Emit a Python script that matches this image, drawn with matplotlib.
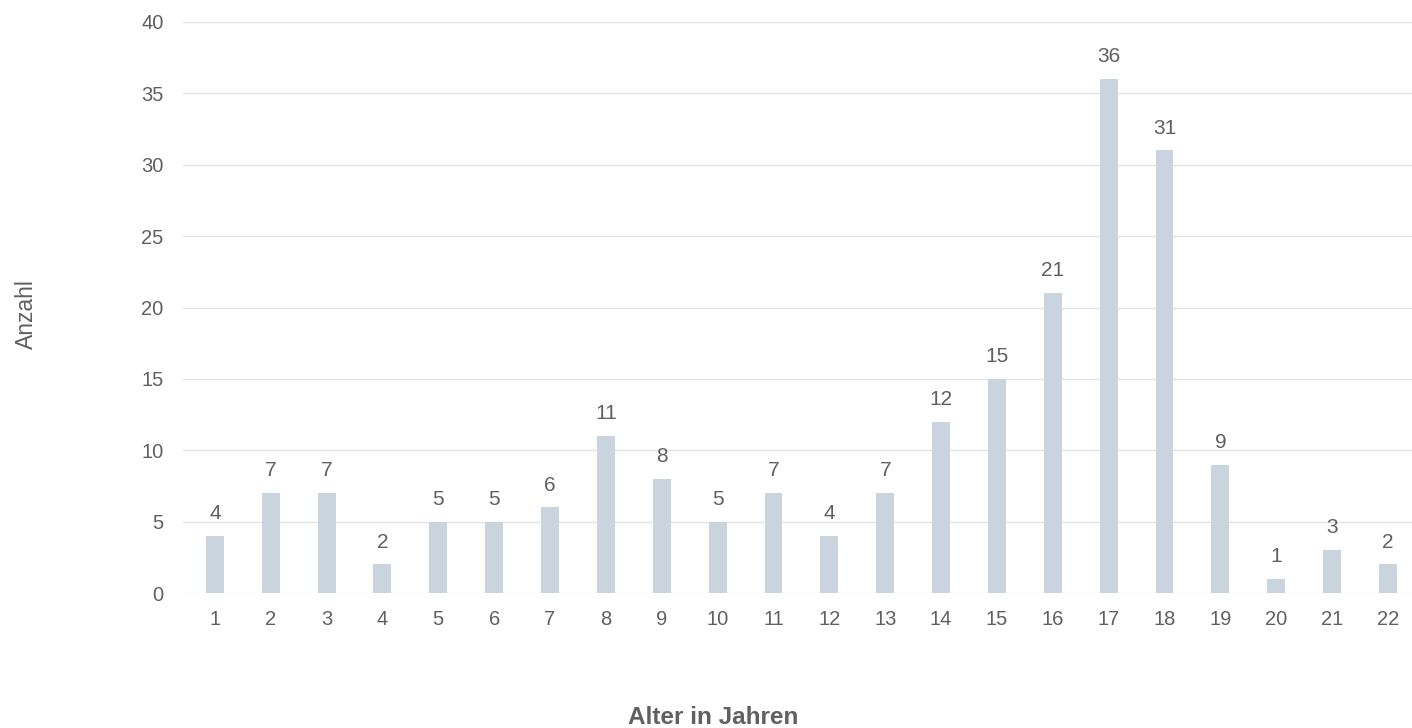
import matplotlib.pyplot as plt
import numpy as np

plt.rcParams['font.family'] = ['Liberation Sans', 'DejaVu Sans']

# ages and counts
ages = [str(a) for a in range(1, 23)]
counts = [4, 7, 7, 2, 5, 5, 6, 11, 8, 5, 7, 4, 7, 12, 15, 21, 36, 31, 9, 1, 3, 2]

text_col = '#606060'
bar_col = '#c9d4df'
grid_col = '#e2e2e2'

fig = plt.figure(figsize=(14.12, 7.28), dpi=100)
ax = fig.add_axes([0.1296, 0.1854, 0.8704, 0.7844])

x = np.arange(len(ages))
bars = ax.bar(x, counts, width=0.32, color=bar_col, zorder=2)

# value labels above each bar
for xi, v in zip(x, counts):
    ax.text(xi, v + 0.9, str(v), ha='center', va='bottom', fontsize=15, color=text_col)

ax.set_xlim(-0.57, len(ages) - 0.57)
ax.set_ylim(0, 40)
ax.set_yticks(np.arange(0, 41, 5))
ax.set_xticks(x)
ax.set_xticklabels(ages)

ax.yaxis.grid(True, color=grid_col, linewidth=1, zorder=0)
ax.set_axisbelow(True)
for s in ax.spines.values():
    s.set_visible(False)
ax.tick_params(axis='both', length=0, labelsize=14.5, colors=text_col)
ax.tick_params(axis='y', pad=14)
ax.tick_params(axis='x', pad=12)

fig.text(0.019, 0.569, 'Anzahl', rotation=90, ha='center', va='center', fontsize=16.5, color=text_col)
fig.text(0.505, 0.015, 'Alter in Jahren', ha='center', va='center', fontsize=17.5,
         fontweight='bold', color=text_col)

plt.savefig('out.png', dpi=100)
